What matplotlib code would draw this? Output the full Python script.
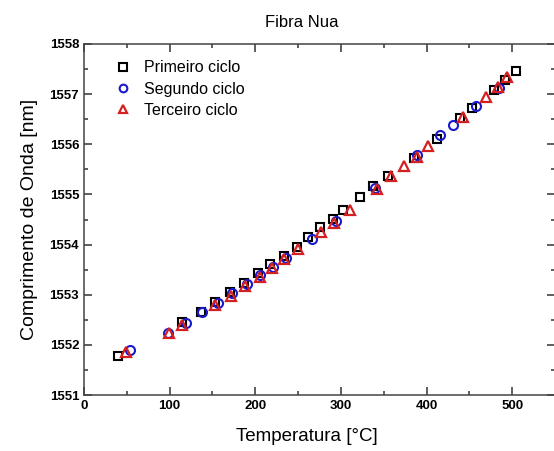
import matplotlib
matplotlib.use("Agg")
import matplotlib.pyplot as plt
from matplotlib.ticker import MultipleLocator

plt.rcParams['font.family'] = ['Liberation Sans', 'DejaVu Sans']

t1 = [40, 115, 137, 153, 171, 187, 203, 217, 234, 249, 262, 276, 291, 303, 322, 338, 355, 385, 412, 439, 453, 479, 492, 504]
w1 = [1551.78, 1552.46, 1552.66, 1552.86, 1553.06, 1553.24, 1553.44, 1553.61, 1553.77, 1553.96, 1554.16, 1554.35,
      1554.51, 1554.69, 1554.94, 1555.16, 1555.36, 1555.72, 1556.10, 1556.52, 1556.72, 1557.08, 1557.28, 1557.47]

t2 = [54, 98, 119, 138, 156, 173, 190, 205, 221, 236, 266, 294, 340, 389, 416, 431, 458, 485]
w2 = [1551.90, 1552.23, 1552.44, 1552.66, 1552.83, 1553.03, 1553.21, 1553.40, 1553.56, 1553.74, 1554.11, 1554.47,
      1555.13, 1555.79, 1556.19, 1556.39, 1556.76, 1557.12]

t3 = [49, 99, 115, 153, 172, 188, 205, 219, 234, 250, 277, 292, 311, 342, 359, 374, 389, 402, 443, 470, 483, 494]
w3 = [1551.86, 1552.23, 1552.40, 1552.80, 1552.98, 1553.18, 1553.36, 1553.53, 1553.71, 1553.91, 1554.26, 1554.44,
      1554.68, 1555.11, 1555.36, 1555.56, 1555.75, 1555.96, 1556.54, 1556.95, 1557.15, 1557.35]

labels = ['Primeiro ciclo', 'Segundo ciclo', 'Terceiro ciclo']

fig = plt.figure(figsize=(5.54, 4.51), dpi=100)
ax = fig.add_axes([84/554, 56/451, 471/554, 351/451])

ax.plot(t1, w1, ls='none', marker='s', ms=6, mfc='none', mec='black', mew=1.5, label=labels[0])
ax.plot(t2, w2, ls='none', marker='o', ms=6.5, mfc='none', mec='#1a1acc', mew=1.5, label=labels[1])
ax.plot(t3, w3, ls='none', marker='^', ms=7.5, mfc='none', mec='#d42020', mew=1.6, label=labels[2])

ax.set_xlim(0, 550)
ax.set_ylim(1551, 1558)
ax.xaxis.set_major_locator(MultipleLocator(100))
ax.xaxis.set_minor_locator(MultipleLocator(50))
ax.yaxis.set_major_locator(MultipleLocator(1))
ax.yaxis.set_minor_locator(MultipleLocator(0.5))
ax.tick_params(which='both', direction='in', top=True, right=True, width=1.1, colors='#333333',
               labelcolor='black')
ax.tick_params(which='major', length=5.5, labelsize=9.5)
ax.tick_params(which='minor', length=3)
for lbl in ax.get_xticklabels() + ax.get_yticklabels():
    lbl.set_fontweight('bold')
for s in ax.spines.values():
    s.set_linewidth(1.1)
    s.set_color('#444444')

ax.set_title('Fibra Nua', fontsize=12, pad=12, x=0.463)
ax.set_xlabel('Temperatura [°C]', fontsize=13.5)
ax.xaxis.set_label_coords(0.473, -0.095)
ax.set_ylabel('Comprimento de Onda [nm]', fontsize=14, labelpad=8)

leg = ax.legend(loc='upper left', frameon=False, fontsize=11.5, handletextpad=0.5,
                borderaxespad=0.5, labelspacing=0.4, bbox_to_anchor=(0.025, 0.995),
                markerscale=0.85, handlelength=1.6)

fig.savefig('out.png', dpi=100)
